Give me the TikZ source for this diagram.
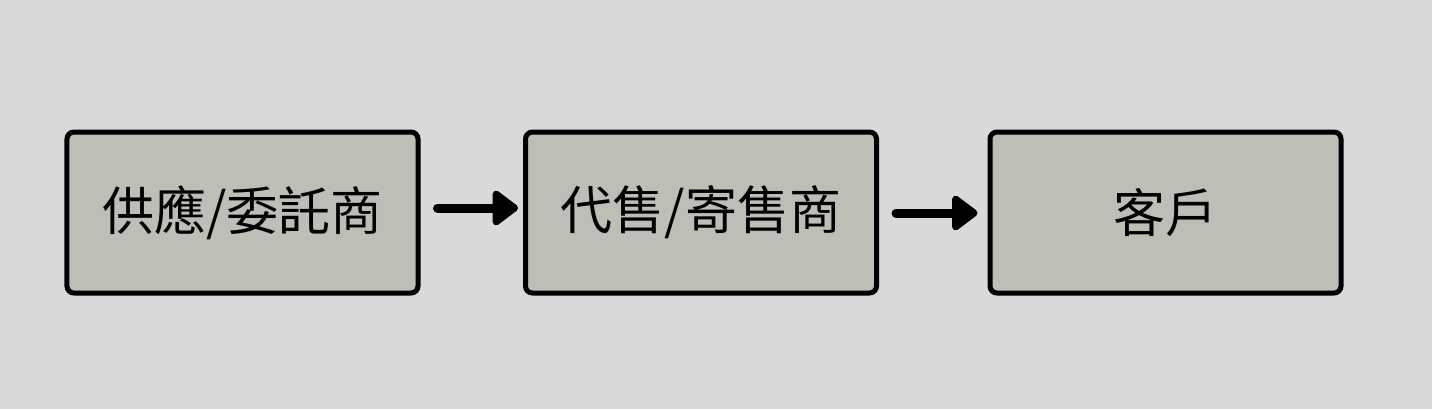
\documentclass[tikz,border=0pt]{standalone}
\usepackage{fontspec}
\setmainfont{Noto Sans CJK TC}
\usetikzlibrary{arrows.meta}
\definecolor{bg}{RGB}{217,217,217}
\definecolor{boxfill}{RGB}{189,190,182}
\begin{document}
\begin{tikzpicture}[x=1bp,y=-1bp,
  box/.style={draw=black,line width=5bp,fill=boxfill,rounded corners=7bp,
    minimum width=351bp,minimum height=161bp,inner sep=0pt,
    font=\fontsize{52bp}{60bp}\selectfont},
  flow/.style={line width=9bp,line cap=round,
    -{Triangle[round,length=28bp,width=40bp]}}]
\fill[bg] (0,0) rectangle (1432,409);
\useasboundingbox (0,0) rectangle (1432,409);
\node[box] (b1) at (242.5,212.5) {供應/委託商};
\node[box] (b2) at (701,212.5) {代售/寄售商};
\node[box] (b3) at (1165.5,212.5) {客戶};
\draw[flow,shorten <=17bp,shorten >=5bp] ([yshift=4.5bp]b1.east) -- ([yshift=4.5bp]b2.west);
\draw[flow,shorten <=17bp,shorten >=10bp] ([yshift=-0.5bp]b2.east) -- ([yshift=-0.5bp]b3.west);
\end{tikzpicture}
\end{document}
